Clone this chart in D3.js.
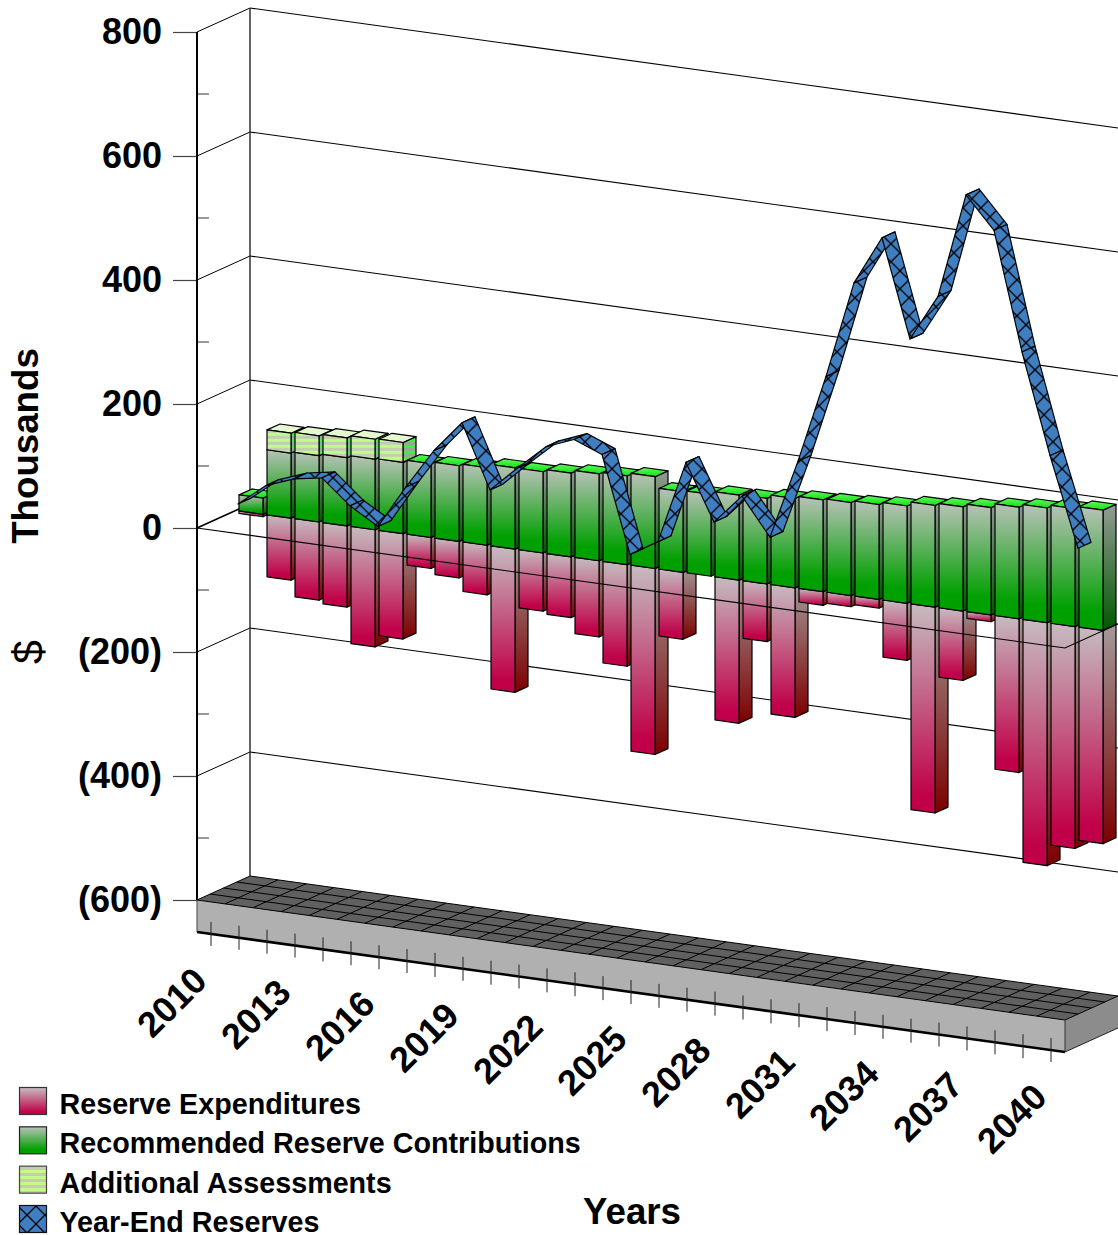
<!DOCTYPE html>
<html>
<head>
<meta charset="utf-8">
<script src="https://cdn.jsdelivr.net/npm/d3@7/dist/d3.min.js"></script>
<style>
  html, body { margin: 0; padding: 0; background: #fff; }
  svg { display: block; }
  text { font-family: "Liberation Sans", Arial, sans-serif; font-weight: 700; fill: #000; }
</style>
</head>
<body>
<svg id="chart" width="1118" height="1235"></svg>
<script>
// Annual reserve study figures, in thousands of dollars.
const years = d3.range(2010, 2041);
const expenditures = [4, 100, 126, 131, 189, 170, 50, 59, 80, 231, 94, 98, 123, 164, 300, 108, 0, 231, 93, 209, 22, 18, 14, 92, 332, 112, 11, 248, 392, 358, 344];
const contributions = [26, 105, 107, 110, 114, 115, 119, 122, 125, 131, 131, 135, 140, 143, 148, 130, 132, 137, 138, 144, 148, 150, 153, 157, 164, 168, 173, 180, 185, 190, 194];
const assessments = [0, 32, 32, 32, 32, 32, 0, 0, 0, 0, 0, 0, 0, 0, 0, 0, 0, 0, 0, 0, 0, 0, 0, 0, 0, 0, 0, 0, 0, 0, 0];
const reserves = [11, 47, 64, 72, 33, 6, 76, 141, 192, 90, 132, 172, 190, 172, 17, 44, 178, 88, 136, 76, 205, 348, 505, 584, 427, 502, 672, 621, 431, 270, 127];
const majorTicks = [800, 600, 400, 200, 0, -200, -400, -600];
const minorTicks = [700, 500, 300, 100, -100, -300, -500];
const labelledYears = years.filter((y, i) => i % 3 === 0);
const legendLabels = ["Reserve Expenditures", "Recommended Reserve Contributions", "Additional Assessments", "Year-End Reserves"];

const svg = d3.select("#chart");
const defs = svg.append("defs");

// Oblique projection: slots run along x with a downward drift, depth runs up and to the right.
const xScale = d3.scaleLinear().domain([0, 31]).range([197, 1065]);
const yScale = d3.scaleLinear().domain([800, -600]).range([32, 900]);
const depthX = d3.scaleLinear().domain([0, 1]).range([0, 53]);
const depthY = d3.scaleLinear().domain([0, 1]).range([0, -24]);
const drift = 120 / 868;

function project(slot, value, depth) {
  const px = xScale(slot);
  return [px + depthX(depth), yScale(value) + (px - xScale(0)) * drift + depthY(depth)];
}
const poly = pts => pts.map(p => p.map(n => n.toFixed(2)).join(",")).join(" ");

function gradient(id, stops) {
  const g = defs.append("linearGradient").attr("id", id)
    .attr("x1", 0).attr("y1", 0).attr("x2", 0).attr("y2", 1);
  stops.forEach(([o, c]) => g.append("stop").attr("offset", o).attr("stop-color", c));
}
gradient("pinkFront", [[0, "#c6bcc0"], [0.92, "#c00048"], [1, "#c00048"]]);
gradient("pinkSide", [[0, "#a49a9a"], [1, "#7c0000"]]);
gradient("pinkTop", [[0, "#c00048"], [1, "#c00048"]]);
gradient("greenFront", [[0, "#b8c2b8"], [0.85, "#00a000"], [1, "#00a000"]]);
gradient("greenSide", [[0, "#949c94"], [1, "#005800"]]);
gradient("greenTop", [[0, "#60f860"], [1, "#10e010"]]);

const stripes = defs.append("pattern").attr("id", "stripes")
  .attr("patternUnits", "userSpaceOnUse").attr("width", 8).attr("height", 6);
stripes.append("rect").attr("width", 8).attr("height", 6).attr("fill", "#c2fb86");
stripes.append("rect").attr("y", 3).attr("width", 8).attr("height", 3).attr("fill", "#c4ccb4");

const sideStripes = defs.append("pattern").attr("id", "sideStripes")
  .attr("patternUnits", "userSpaceOnUse").attr("width", 8).attr("height", 6);
sideStripes.append("rect").attr("width", 8).attr("height", 6).attr("fill", "#40f040");
sideStripes.append("rect").attr("y", 3).attr("width", 8).attr("height", 3).attr("fill", "#98a898");

const hatchSize = 18;
const hatch = defs.append("pattern").attr("id", "hatch")
  .attr("patternUnits", "userSpaceOnUse").attr("width", hatchSize).attr("height", hatchSize);
hatch.append("rect").attr("width", hatchSize).attr("height", hatchSize).attr("fill", "#3f7fc1");
hatch.append("path").attr("d", `M0,0L${hatchSize},${hatchSize}M${hatchSize},0L0,${hatchSize}`)
  .attr("stroke", "#000").attr("stroke-width", 1.3).attr("fill", "none");

// Base plate: top grid, front face and right face.
const plate = svg.append("g");
const plateDepth = 32;
plate.append("polygon")
  .attr("points", poly([project(0, -600, 0), project(31, -600, 0), project(31, -600, 1), project(31, -600, 1).map((n, k) => k ? n + plateDepth : n), project(31, -600, 0).map((n, k) => k ? n + plateDepth : n)]))
  .attr("fill", "#8c8c8c");
plate.append("polygon")
  .attr("points", poly([project(0, -600, 0), project(31, -600, 0), project(31, -600, 0).map((n, k) => k ? n + plateDepth : n), project(0, -600, 0).map((n, k) => k ? n + plateDepth : n)]))
  .attr("fill", "#b0b0b0");
plate.append("polygon")
  .attr("points", poly([project(0, -600, 0), project(31, -600, 0), project(31, -600, 1), project(0, -600, 1)]))
  .attr("fill", "#606060").attr("stroke", "#000").attr("stroke-width", 1);
d3.range(1, 31).forEach(i => {
  const a = project(i, -600, 0), b = project(i, -600, 1);
  plate.append("line").attr("x1", a[0]).attr("y1", a[1]).attr("x2", b[0]).attr("y2", b[1]).attr("stroke", "#000").attr("stroke-width", 1);
});
[0.25, 0.5, 0.75].forEach(d => {
  const a = project(0, -600, d), b = project(31, -600, d);
  plate.append("line").attr("x1", a[0]).attr("y1", a[1]).attr("x2", b[0]).attr("y2", b[1]).attr("stroke", "#000").attr("stroke-width", 1);
});
{
  const a = project(0, -600, 0), b = project(31, -600, 0);
  plate.append("line").attr("x1", a[0]).attr("y1", a[1] + plateDepth).attr("x2", b[0]).attr("y2", b[1] + plateDepth).attr("stroke", "#000").attr("stroke-width", 2.6);
  plate.append("line").attr("x1", b[0]).attr("y1", b[1]).attr("x2", b[0]).attr("y2", b[1] + plateDepth).attr("stroke", "#333").attr("stroke-width", 1);
  const c = project(31, -600, 1);
  plate.append("line").attr("x1", b[0]).attr("y1", b[1] + plateDepth).attr("x2", c[0]).attr("y2", c[1] + plateDepth).attr("stroke", "#222").attr("stroke-width", 1);
  plate.append("line").attr("x1", a[0]).attr("y1", a[1]).attr("x2", a[0]).attr("y2", a[1] + plateDepth).attr("stroke", "#444").attr("stroke-width", 1);
}

// Year ticks straddle the lower edge of the plate.
const yearTicks = svg.append("g");
years.forEach((y, i) => {
  const p = project(i + 0.5, -600, 0);
  yearTicks.append("line").attr("x1", p[0]).attr("x2", p[0])
    .attr("y1", p[1] + plateDepth - 12).attr("y2", p[1] + plateDepth + 12)
    .attr("stroke", "#222").attr("stroke-width", 1);
});
labelledYears.forEach(y => {
  const i = y - years[0];
  const p = project(i + 0.5, -600, 0);
  svg.append("text")
    .attr("transform", `translate(${p[0] - 2},${p[1] + plateDepth + 49}) rotate(-45)`)
    .attr("text-anchor", "end").attr("font-size", 36).text(y);
});

// Back wall and left wall rules.
const walls = svg.append("g").attr("fill", "none");
majorTicks.forEach(v => {
  const a = project(0, v, 0), b = project(0, v, 1), c = project(31, v, 1);
  if (v !== -600) {
    walls.append("line").attr("x1", a[0]).attr("y1", a[1]).attr("x2", b[0]).attr("y2", b[1]).attr("stroke", "#000").attr("stroke-width", v === 0 ? 1.6 : 1);
    walls.append("line").attr("x1", b[0]).attr("y1", b[1]).attr("x2", c[0]).attr("y2", c[1]).attr("stroke", "#000").attr("stroke-width", 1.1);
  }
});
{
  const t = project(0, 800, 1), b = project(0, -600, 1);
  walls.append("line").attr("x1", t[0]).attr("y1", t[1]).attr("x2", b[0]).attr("y2", b[1]).attr("stroke", "#222").attr("stroke-width", 1.4);
}

// Value axis with major labels; minor ticks point inward.
const axis = d3.axisLeft(yScale)
  .tickValues(majorTicks)
  .tickSize(24)
  .tickPadding(11)
  .tickFormat(v => v < 0 ? `(${-v})` : `${v}`);
const axisG = svg.append("g").attr("transform", `translate(${xScale(0)},0)`).call(axis);
axisG.select(".domain").remove();
axisG.selectAll(".tick line").attr("stroke", "#444").attr("stroke-width", 1.2);
axisG.selectAll(".tick text").attr("font-size", 36).attr("font-family", "Liberation Sans").attr("font-weight", 700).attr("fill", "#000");
minorTicks.forEach(v => {
  svg.append("line").attr("x1", xScale(0)).attr("x2", xScale(0) + 12)
    .attr("y1", yScale(v)).attr("y2", yScale(v)).attr("stroke", "#555").attr("stroke-width", 1.2);
});
svg.append("line").attr("x1", xScale(0)).attr("x2", xScale(0))
  .attr("y1", yScale(800)).attr("y2", yScale(-600)).attr("stroke", "#000").attr("stroke-width", 2);

// Bar geometry: each box occupies most of its slot and sits toward the back of the floor.
const inset = 2 / 28;
const frontDepth = 40 / 53;
const backDepth = 1;
const edge = { stroke: "#000", width: 1.2 };
const markNudge = "translate(0,0.8)";

function drawBox(layer, i, low, high, frontFill, sideFill, topFill) {
  const l = i + inset, r = i + 1 - inset;
  const front = [project(l, high, frontDepth), project(r, high, frontDepth), project(r, low, frontDepth), project(l, low, frontDepth)];
  const side = [project(r, high, frontDepth), project(r, high, backDepth), project(r, low, backDepth), project(r, low, frontDepth)];
  const top = [project(l, high, frontDepth), project(l, high, backDepth), project(r, high, backDepth), project(r, high, frontDepth)];
  [[side, sideFill], [top, topFill], [front, frontFill]].forEach(([pts, fill]) => {
    layer.append("polygon").attr("points", poly(pts)).attr("fill", fill)
      .attr("stroke", edge.stroke).attr("stroke-width", edge.width).attr("stroke-linejoin", "round");
  });
}

// Expenditures hang below zero, behind the zero rule.
const pinkLayer = svg.append("g").attr("transform", markNudge);
expenditures.forEach((v, i) => {
  if (v > 0) drawBox(pinkLayer, i, -v, 0, "url(#pinkFront)", "url(#pinkSide)", "url(#pinkTop)");
});

// Zero rule along the front of the floor, turning back at the right corner.
{
  const a = project(0, 0, 0), b = project(31, 0, 0), c = project(31, 0, 1);
  svg.append("polyline").attr("points", poly([a, b, c]))
    .attr("fill", "none").attr("stroke", "#000").attr("stroke-width", 1.1);
}

// Contributions, with assessments stacked on top.
const greenLayer = svg.append("g").attr("transform", markNudge);
contributions.forEach((v, i) => {
  const extra = assessments[i];
  drawBox(greenLayer, i, 0, v, "url(#greenFront)", "url(#greenSide)", "url(#greenTop)");
  if (extra > 0) drawBox(greenLayer, i, v, v + extra, "url(#stripes)", "url(#sideStripes)", "#e6f8d0");
});

// Year-end reserves as a ribbon, one quad per year.
const ribbon = svg.append("g").attr("transform", markNudge);
const anchor = i => i + 1 / 28;
d3.range(0, reserves.length - 1).forEach(i => {
  const a = reserves[i], b = reserves[i + 1];
  const quad = [
    project(anchor(i), a, frontDepth), project(anchor(i + 1), b, frontDepth),
    project(anchor(i + 1), b, backDepth), project(anchor(i), a, backDepth)
  ];
  ribbon.append("polygon").attr("points", poly(quad)).attr("fill", "url(#hatch)")
    .attr("stroke", "#000").attr("stroke-width", 1.2).attr("stroke-linejoin", "round");
});

// Axis titles.
svg.append("text").attr("transform", "translate(38,446) rotate(-90)")
  .attr("text-anchor", "middle").attr("font-size", 36.7).text("Thousands");
svg.append("text").attr("transform", "translate(43,652) rotate(-90)")
  .attr("text-anchor", "middle").attr("font-size", 43).style("font-weight", 400).text("$");
svg.append("text").attr("x", 632).attr("y", 1224)
  .attr("text-anchor", "middle").attr("font-size", 36.7).text("Years");

// Legend.
const legendFills = ["url(#pinkFront)", "url(#greenFront)", "url(#stripes)", "url(#hatch)"];
const legendStrokes = ["#333", "#222", "#444", "#111"];
const legendRow = d3.scalePoint().domain(legendLabels).range([1087, 1205]);
legendLabels.forEach((label, k) => {
  const y = legendRow(label);
  svg.append("rect").attr("x", 19.5).attr("y", y + 0.5).attr("width", 27).attr("height", 27)
    .attr("fill", legendFills[k]).attr("stroke", legendStrokes[k]).attr("stroke-width", 1.2);
  svg.append("text").attr("x", 59.5).attr("y", y + 27).attr("font-size", 28.7).text(label);
});
</script>
</body>
</html>
